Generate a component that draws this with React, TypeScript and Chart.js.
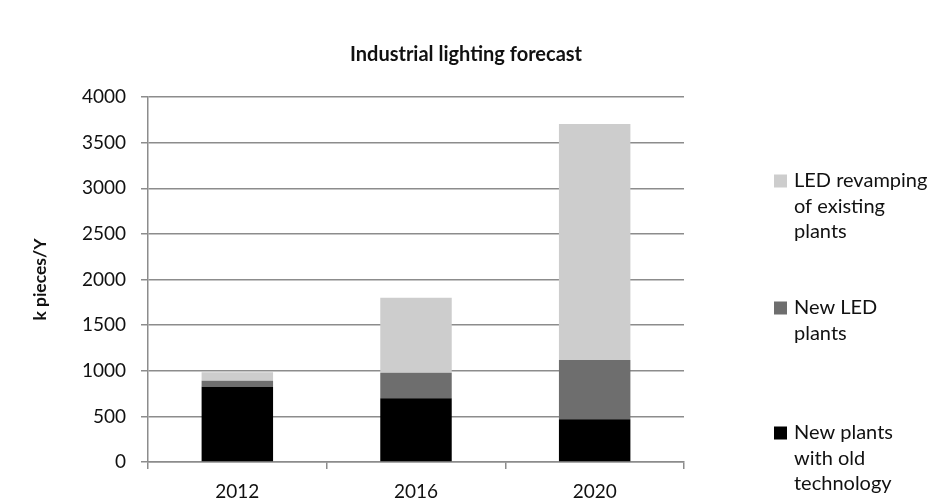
import React, { useEffect, useRef } from "react";
import { Chart, registerables } from "chart.js";

Chart.register(...registerables);

const categories = ["2012", "2016", "2020"];
const oldTechPlants = [825, 698, 469];
const newLedPlants = [66, 280, 649];
const ledRevamping = [92, 822, 2586];
const yTickValues = [0, 500, 1000, 1500, 2000, 2500, 3000, 3500, 4000];
const chartTitle = "Industrial lighting forecast";
const yAxisTitle = "k pieces/Y";
const legendLabels = [
  ["LED revamping", "of existing", "plants"],
  ["New LED", "plants"],
  ["New plants", "with old", "technology"],
];

const COLORS = { old: "#000000", newLed: "#6e6e6e", revamp: "#cdcdcd" };
const GRID = "#8c8c8c";
const FONT = "Lato, 'Open Sans', sans-serif";

export default function App() {
  const ref = useRef<HTMLCanvasElement | null>(null);

  useEffect(() => {
    if (!ref.current) return;
    document.body.style.margin = "0";

    const overlay = {
      id: "overlay",
      afterDraw(chart: any) {
        const ctx = chart.ctx;
        const area = chart.chartArea;
        ctx.save();
        ctx.fillStyle = "#111";
        ctx.font = `bold 20px ${FONT}`;
        ctx.textAlign = "center";
        ctx.textBaseline = "middle";
        ctx.fillText(chartTitle, 466, 55);
        ctx.save();
        ctx.translate(40, (area.top + area.bottom) / 2);
        ctx.rotate(-Math.PI / 2);
        ctx.font = `bold 17.5px ${FONT}`;
        ctx.fillText(yAxisTitle, 0, 0);
        ctx.restore();
        const ds = chart.data.datasets;
        const entryTops = [181, 308, 433];
        const lineH = 25.5;
        ctx.textAlign = "left";
        ctx.font = `20px ${FONT}`;
        for (let i = 0; i < legendLabels.length; i++) {
          const d = ds[ds.length - 1 - i];
          const y0 = entryTops[i];
          ctx.fillStyle = d.backgroundColor;
          ctx.fillRect(774, y0 - 6.5, 13, 13);
          ctx.fillStyle = "#111";
          legendLabels[i].forEach((line, k) => {
            ctx.fillText(line, 794, y0 + k * lineH);
          });
        }
        ctx.restore();
      },
    };

    const chart = new Chart(ref.current, {
      type: "bar",
      data: {
        labels: categories,
        datasets: [
          { label: legendLabels[2].join(" "), data: oldTechPlants, backgroundColor: COLORS.old },
          { label: legendLabels[1].join(" "), data: newLedPlants, backgroundColor: COLORS.newLed },
          { label: legendLabels[0].join(" "), data: ledRevamping, backgroundColor: COLORS.revamp },
        ],
      },
      options: {
        animation: false,
        responsive: true,
        maintainAspectRatio: false,
        layout: { padding: { top: 97, right: 252, left: 0, bottom: 0 } },
        datasets: { bar: { categoryPercentage: 0.8, barPercentage: 0.5 } },
        plugins: { legend: { display: false }, title: { display: false }, tooltip: { enabled: false } },
        scales: {
          x: {
            stacked: true,
            grid: { drawOnChartArea: false, drawTicks: true, tickLength: 7, color: GRID, lineWidth: 1.5 },
            border: { display: true, color: GRID, width: 1.5 },
            ticks: { font: { family: FONT, size: 19 }, color: "#111", padding: 11 },
            afterFit: (s: any) => { s.height = 37; },
          },
          y: {
            stacked: true,
            min: 0,
            max: 4000,
            afterBuildTicks: (s: any) => { s.ticks = yTickValues.map((v) => ({ value: v })); },
            grid: { color: GRID, lineWidth: 1.5, tickLength: 7, drawTicks: true },
            border: { display: true, color: GRID, width: 1.5 },
            ticks: {
              font: { family: FONT, size: 19 },
              color: "#111",
              padding: 15,
              callback: (v: any) => String(v),
            },
            afterFit: (s: any) => { s.width = 148; },
          },
        },
      },
      plugins: [overlay],
    });
    return () => chart.destroy();
  }, []);

  return (
    <div style={{ position: "fixed", left: 0, top: 0, width: 936, height: 499, background: "#fff" }}>
      <canvas ref={ref} />
    </div>
  );
}
